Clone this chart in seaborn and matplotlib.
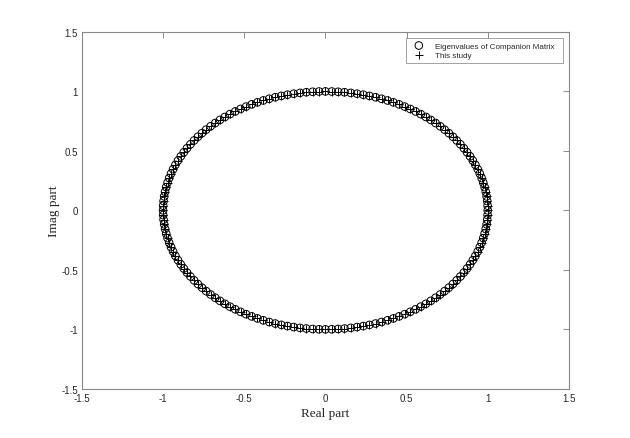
import numpy as np
import pandas as pd
import matplotlib
matplotlib.use("Agg")
import matplotlib.pyplot as plt
import seaborn as sns

# angles (degrees) of the eigenvalues
angles_deg = [
    0, 2.25, 4.5, 6.75, 9, 11.25, 13.5, 15.75,
    18, 20.25, 22.5, 24.75, 27, 29.25, 31.5, 33.75,
    36, 38.25, 40.5, 42.75, 45, 47.25, 49.5, 51.75,
    54, 56.25, 58.5, 60.75, 63, 65.25, 67.5, 69.75,
    72, 74.25, 76.5, 78.75, 81, 83.25, 85.5, 87.75,
    90, 92.25, 94.5, 96.75, 99, 101.25, 103.5, 105.75,
    108, 110.25, 112.5, 114.75, 117, 119.25, 121.5, 123.75,
    126, 128.25, 130.5, 132.75, 135, 137.25, 139.5, 141.75,
    144, 146.25, 148.5, 150.75, 153, 155.25, 157.5, 159.75,
    162, 164.25, 166.5, 168.75, 171, 173.25, 175.5, 177.75,
    180, 182.25, 184.5, 186.75, 189, 191.25, 193.5, 195.75,
    198, 200.25, 202.5, 204.75, 207, 209.25, 211.5, 213.75,
    216, 218.25, 220.5, 222.75, 225, 227.25, 229.5, 231.75,
    234, 236.25, 238.5, 240.75, 243, 245.25, 247.5, 249.75,
    252, 254.25, 256.5, 258.75, 261, 263.25, 265.5, 267.75,
    270, 272.25, 274.5, 276.75, 279, 281.25, 283.5, 285.75,
    288, 290.25, 292.5, 294.75, 297, 299.25, 301.5, 303.75,
    306, 308.25, 310.5, 312.75, 315, 317.25, 319.5, 321.75,
    324, 326.25, 328.5, 330.75, 333, 335.25, 337.5, 339.75,
    342, 344.25, 346.5, 348.75, 351, 353.25, 355.5, 357.75,
]
radius = 1.0

ticks = [-1.5, -1, -0.5, 0, 0.5, 1, 1.5]
tick_labels = ["-1.5", "-1", "-0.5", "0", "0.5", "1", "1.5"]

th = np.deg2rad(np.array(angles_deg))
df = pd.DataFrame({"re": radius * np.cos(th), "im": radius * np.sin(th)})

sns.set_style("white")
plt.rcParams["font.family"] = ["Liberation Sans", "DejaVu Sans"]

fig = plt.figure(figsize=(6.3, 4.39), dpi=100)
ax = fig.add_axes([0.130, 0.112, 0.773, 0.813])

sns.scatterplot(data=df, x="re", y="im", marker="o", s=30,
                facecolors="none", edgecolor="black", linewidth=0.7,
                label="Eigenvalues of Companion Matrix", ax=ax)
sns.scatterplot(data=df, x="re", y="im", marker="+", s=36,
                color="black", linewidth=0.7,
                label="This study", ax=ax)

ax.set_xlim(-1.5, 1.5)
ax.set_ylim(-1.5, 1.5)
ax.set_xticks(ticks)
ax.set_xticklabels(tick_labels)
ax.set_yticks(ticks)
ax.set_yticklabels(tick_labels)
ax.tick_params(direction="in", length=4, width=0.6, color="#777777",
               labelsize=7, top=True, right=True, pad=3)

for sp in ax.spines.values():
    sp.set_visible(True)
    sp.set_color("#888888")
    sp.set_linewidth(0.8)

ax.set_xlabel("Real part", family=["Liberation Serif", "DejaVu Serif"],
              fontsize=9.5, labelpad=3)
ax.set_ylabel("Imag part", family=["Liberation Serif", "DejaVu Serif"],
              fontsize=9.5, labelpad=1)

leg = ax.legend(loc="upper right", fontsize=5.8, frameon=True, fancybox=False,
                borderpad=0.45, handletextpad=0.9, handlelength=2.2,
                labelspacing=0.25, borderaxespad=0,
                bbox_to_anchor=(0.987, 0.982))
leg.get_frame().set_edgecolor("#777777")
leg.get_frame().set_linewidth(0.6)
for t in leg.get_texts():
    if t.get_text().startswith("Eigen"):
        t.set_text(t.get_text() + "  ")

fig.savefig("out.png", dpi=100)
